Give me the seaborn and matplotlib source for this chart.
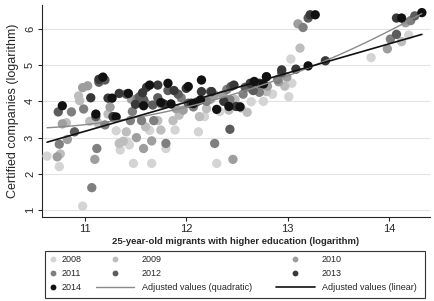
import matplotlib
matplotlib.use('Agg')
import matplotlib.pyplot as plt
from matplotlib.lines import Line2D
from matplotlib.patches import Rectangle
import seaborn as sns
import pandas as pd

years = ['2008', '2009', '2010', '2011', '2012', '2013', '2014']
colors = ['#d4d4d4', '#bdbdbd', '#9e9e9e', '#7f7f7f', '#5c5c5c', '#383838', '#111111']

x2008 = [10.63, 10.75, 10.98, 11.31, 11.35, 11.42, 11.48, 11.66, 11.80, 12.12, 12.30, 12.33, 11.89,
         12.64, 13.01, 13.03, 12.85, 13.82, 14.19, 12.18, 11.64, 12.76, 11.44, 12.07, 13.04]
y2008 = [2.49, 2.20, 1.11, 3.19, 2.66, 2.88, 2.29, 2.29, 2.70, 3.16, 2.29, 3.72, 3.21,
         3.99, 4.13, 5.17, 4.20, 5.21, 5.83, 3.58, 3.20, 4.00, 2.80, 3.85, 4.50]
x2009 = [10.76, 10.82, 10.94, 10.95, 11.13, 11.23, 11.34, 11.38, 11.41, 11.60, 11.72, 11.75, 11.87,
         12.13, 12.20, 12.42, 12.54, 12.60, 12.79, 13.12, 14.12, 11.93, 12.48, 11.05, 12.97]
y2009 = [2.55, 3.41, 4.15, 4.02, 3.41, 3.65, 2.84, 2.90, 3.16, 3.30, 3.47, 3.21, 3.47,
         3.58, 3.80, 3.76, 3.82, 3.70, 4.27, 5.47, 5.65, 3.62, 4.05, 3.45, 4.42]
x2010 = [10.73, 10.78, 10.83, 10.98, 11.03, 11.10, 11.25, 11.46, 11.51, 11.58, 11.66, 11.75, 11.90,
         11.97, 12.24, 12.28, 12.36, 12.46, 12.64, 12.80, 12.91, 13.10, 13.98, 14.16, 12.99]
y2010 = [2.47, 3.38, 2.95, 4.38, 4.43, 2.40, 3.84, 4.06, 3.00, 2.70, 2.91, 3.93, 3.80,
         3.76, 4.06, 4.18, 4.18, 2.40, 4.35, 4.42, 4.54, 6.14, 5.45, 6.17, 4.67]
x2011 = [10.75, 10.87, 10.99, 11.07, 11.12, 11.20, 11.47, 11.45, 11.56, 11.60, 11.68, 11.80, 11.95,
         12.07, 12.28, 12.40, 12.43, 12.56, 12.72, 12.90, 13.15, 14.01, 14.21, 11.52, 12.20]
y2011 = [2.82, 3.71, 3.79, 1.62, 2.70, 3.35, 3.72, 3.47, 3.47, 3.95, 3.47, 2.84, 4.10,
         3.85, 2.84, 4.33, 4.05, 4.20, 4.25, 4.60, 6.04, 5.72, 6.23, 4.08, 4.00]
x2012 = [10.74, 10.90, 11.14, 11.11, 11.28, 11.20, 11.41, 11.54, 11.58, 11.72, 11.82, 11.92, 12.10,
         12.24, 12.43, 12.44, 12.58, 12.66, 12.79, 12.94, 13.20, 14.07, 14.25, 11.67, 12.02]
y2012 = [3.71, 3.16, 4.53, 3.58, 3.57, 4.59, 4.20, 4.13, 4.05, 4.10, 4.30, 4.20, 3.98,
         4.27, 3.23, 4.41, 4.39, 4.30, 4.68, 4.79, 6.30, 5.85, 6.36, 3.90, 3.95]
x2013 = [11.06, 11.14, 11.23, 11.28, 11.34, 11.57, 11.61, 11.72, 11.78, 11.88, 12.00, 12.05, 12.15,
         12.25, 12.47, 12.49, 12.63, 12.72, 12.94, 13.08, 13.22, 13.37, 14.07, 11.50, 12.37]
y2013 = [4.10, 4.61, 4.09, 3.58, 4.22, 4.24, 4.39, 4.45, 3.93, 4.30, 4.36, 3.95, 4.27,
         4.27, 4.45, 3.86, 4.50, 4.50, 4.87, 4.89, 6.39, 5.12, 6.30, 3.92, 4.00]
x2014 = [10.78, 11.11, 11.18, 11.27, 11.31, 11.43, 11.64, 11.75, 11.82, 11.85, 12.02, 12.07, 12.15,
         12.14, 12.42, 12.53, 12.67, 12.76, 12.79, 13.20, 13.27, 14.12, 14.32, 11.58, 12.30]
y2014 = [3.88, 3.65, 4.67, 4.09, 3.57, 4.22, 4.45, 3.97, 4.50, 3.93, 4.41, 3.94, 4.59,
         4.04, 3.86, 3.85, 4.55, 4.48, 4.68, 4.98, 6.39, 6.30, 6.45, 3.88, 3.78]

xs = [x2008, x2009, x2010, x2011, x2012, x2013, x2014]
ys = [y2008, y2009, y2010, y2011, y2012, y2013, y2014]
frames = [pd.DataFrame({'x': xv, 'y': yv, 'year': yr}) for xv, yv, yr in zip(xs, ys, years)]
df = pd.concat(frames, ignore_index=True)

sns.set_style('ticks')
plt.rcParams['font.family'] = ['Liberation Sans', 'DejaVu Sans']

fig = plt.figure(figsize=(4.34, 3.01), dpi=100)
ax = fig.add_axes([42 / 434, 1 - 217 / 301, 388 / 434, 212 / 301])

sns.scatterplot(data=df, x='x', y='y', hue='year', hue_order=years,
                palette=dict(zip(years, colors)), s=45, linewidth=0,
                legend=False, ax=ax, zorder=3)
sns.regplot(data=df, x='x', y='y', order=2, ci=None, scatter=False,
            line_kws={'color': '#8a8a8a', 'lw': 1.0, 'zorder': 4}, ax=ax)
sns.regplot(data=df, x='x', y='y', order=1, ci=None, scatter=False,
            line_kws={'color': '#111111', 'lw': 1.2, 'zorder': 5}, ax=ax)

ax.set_xlim(10.58, 14.40)
ax.set_ylim(0.81, 6.66)
ax.set_xticks([11, 12, 13, 14])
ax.set_yticks([1, 2, 3, 4, 5, 6])
ax.tick_params(axis='both', labelsize=8, length=3, width=0.8, pad=2)
for lbl in ax.get_yticklabels():
    lbl.set_rotation(90)
    lbl.set_va('center')
ax.grid(axis='y', color='#e3e3e3', lw=0.8)
ax.set_axisbelow(True)
sns.despine(ax=ax)
ax.set_xlabel('25-year-old migrants with higher education (logarithm)',
              fontsize=6.8, fontweight='bold', labelpad=2)
ax.set_ylabel('Certified companies (logarithm)', fontsize=9, labelpad=4)

def mk(c):
    return Line2D([], [], marker='o', ls='', color=c, markersize=4.2, markeredgewidth=0)

h = [mk(c) for c in colors]
quad = Line2D([], [], color='#8a8a8a', lw=1.0)
lin = Line2D([], [], color='#111111', lw=1.2)

fs = 6.5
top = 1 - 255 / 301
common = dict(loc='upper left', frameon=False, fontsize=fs, borderpad=0,
              labelspacing=0.55, borderaxespad=0)
fig.legend([h[0], h[3], h[6]], ['2008', '2011', '2014'], handlelength=1.0,
           handletextpad=0.4, bbox_to_anchor=(48.5 / 434, top), **common)
fig.legend([h[1], h[4], quad], ['2009', '2012', 'Adjusted values (quadratic)'],
           handlelength=4.3, handletextpad=0.8, bbox_to_anchor=(95.5 / 434, top), **common)
fig.legend([h[2], h[5], lin], ['2010', '2013', 'Adjusted values (linear)'],
           handlelength=4.3, handletextpad=0.8, bbox_to_anchor=(276 / 434, top), **common)
fig.patches.append(Rectangle((45 / 434, 3 / 301), 380 / 434, 47 / 301,
                             transform=fig.transFigure, fill=False,
                             edgecolor='#333333', lw=0.8))

fig.savefig('out.png', dpi=100)
plt.close(fig)
